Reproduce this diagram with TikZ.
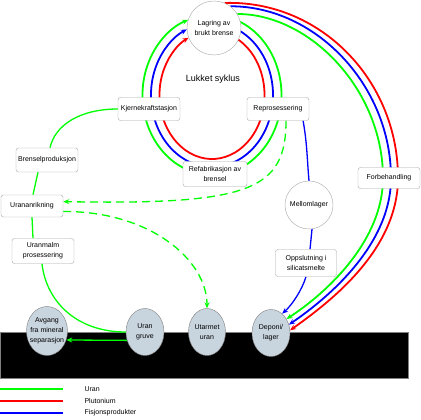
\documentclass[tikz,border=0pt]{standalone}
\usepackage{fontspec}
\setmainfont{Liberation Sans}
\usetikzlibrary{arrows.meta,shapes.geometric,backgrounds}

\definecolor{uran}{RGB}{0,255,0}
\definecolor{pluto}{RGB}{255,0,0}
\definecolor{fisjon}{RGB}{0,0,255}
\definecolor{bakke}{RGB}{200,212,222}

\begin{document}
\begin{tikzpicture}[x=1pt, y=1pt,
  every node/.style={font=\fontsize{7}{10}\selectfont, align=center},
  boks/.style={draw=gray!70, fill=white, rounded corners=2.5pt, minimum width=62pt, minimum height=23pt, inner sep=1pt},
  sirkel/.style={draw=gray!70, fill=white, circle, inner sep=0pt},
  lager/.style={draw=gray, fill=bakke, ellipse, minimum width=38pt, minimum height=47pt, inner sep=0pt},
  ring/.style={line width=1.8pt},
  flyt/.style={line width=1.3pt},
  stiplet/.style={line width=1.3pt, dash pattern=on 8pt off 5pt},
  pil/.style={-{Stealth[length=6pt,width=5pt]}}]
  \useasboundingbox (0,0) rectangle (421,420);

  % lukket syklus
  \node[sirkel, minimum size=54pt] (lagring) at (214,392) {Lagring av\\brukt brense};
  \node[font=\fontsize{9}{11}\selectfont] (lukket) at (213,341) {Lukket syklus};
  \node[boks] (kjerne) at (149,311) {Kjernekraftstasjon};
  \node[boks] (repro) at (278,311) {Reprosessering};
  \node[boks, minimum width=64pt, minimum height=25pt] (refab) at (215,246) {Refabrikasjon av\\brensel};
  \coordinate (syklus) at (212,325);

  % hoeyre side
  \node[boks, minimum height=21pt] (forbeh) at (389,242) {Forbehandling};
  \node[sirkel, minimum size=48pt] (mellom) at (309,215) {Mellomlager};
  \node[boks, minimum width=61pt, minimum height=27pt] (oppslut) at (306,157) {Oppslutning i\\silicatsmelte};

  % venstre side
  \node[boks, minimum height=24pt] (brensel) at (47,260) {Brenselproduksjon};
  \node[boks, minimum height=22pt] (anrik) at (32,214) {Urananrikning};
  \node[boks, minimum height=25pt] (malm) at (43,169) {Uranmalm\\prosessering};

  % bakken
  \node[lager, minimum width=41pt, minimum height=49pt] (avgang) at (47,89) {};
  \node (avgangtekst) at (avgang.center) {Avgang\\fra mineral\\separasjon};
  \node[lager] (gruve) at (145,88) {Uran\\gruve};
  \node[lager, minimum width=37pt] (utarmet) at (207,88) {Utarmet\\uran};
  \node[lager] (deponi) at (271,87) {Deponi/\\lager};

  % forklaring
  \node[anchor=west] (tekstU) at (81,31) {Uran};
  \node[anchor=west] (tekstP) at (81,19) {Plutonium};
  \node[anchor=west] (tekstF) at (81,7) {Fisjonsprodukter};

  \begin{scope}[on background layer]
    \fill[black, draw=gray] (0,42) rectangle (408,88);

    \draw[ring, pluto, pil] (syklus) ++(65:52.5pt and 64pt) arc[start angle=65, end angle=-243.5, x radius=52.5pt, y radius=64pt];
    \draw[ring, fisjon, pil] (syklus) ++(65:61pt and 72pt) arc[start angle=65, end angle=-245.7, x radius=61pt, y radius=72pt];
    \draw[ring, uran, pil] (syklus) ++(68:69.5pt and 80pt) arc[start angle=68, end angle=-250, x radius=69.5pt, y radius=80pt];

    \draw[ring, pluto, pil] (lagring.67) .. controls (320,420) and (398,340) .. ([xshift=9pt]forbeh.center)
      .. controls (398,170) and (330,118) .. (deponi.8);
    \draw[ring, fisjon, pil] (lagring.53) .. controls (315,414) and (391,335) .. ([xshift=2pt]forbeh.center)
      .. controls (391,175) and (328,122) .. (deponi.25);
    \draw[ring, uran, pil] (lagring.31) .. controls (310,406) and (383,330) .. ([xshift=-6pt]forbeh.center)
      .. controls (383,180) and (328,128) .. (deponi.42);

    \draw[flyt, fisjon] (repro.-25) to[out=-80, in=95] (mellom.north);
    \draw[flyt, fisjon] ([xshift=3pt]mellom.south) -- ([xshift=4pt]oppslut.north);
    \draw[flyt, fisjon, pil] (oppslut.south) .. controls (302,130) and (292,115) .. (deponi.60);

    \draw[flyt, uran] (kjerne.west) .. controls (80,311) and (55,295) .. ([xshift=3pt]brensel.north);
    \draw[flyt, uran] ([xshift=-9pt]brensel.south) -- ([xshift=1pt]anrik.north);
    \draw[flyt, uran] (anrik.south) -- ([xshift=-10pt]malm.north);
    \draw[flyt, uran] ([xshift=-1pt]malm.south) .. controls (46,120) and (75,88) .. (gruve.west);
    \draw[flyt, uran, pil] (gruve.205) -- (avgang.-25);

    \draw[stiplet, uran, pil] ([xshift=8pt]repro.south) .. controls (286,230) and (250,215) .. (anrik.8);
    \draw[stiplet, uran, pil] (anrik.-10) .. controls (150,209) and (207,160) .. (utarmet.north);

    \draw[ring, uran] (0,31) -- ++(63,0);
    \draw[ring, pluto] (0,19) -- ++(63,0);
    \draw[ring, fisjon] (0,7) -- ++(63,0);
  \end{scope}
\end{tikzpicture}
\end{document}
